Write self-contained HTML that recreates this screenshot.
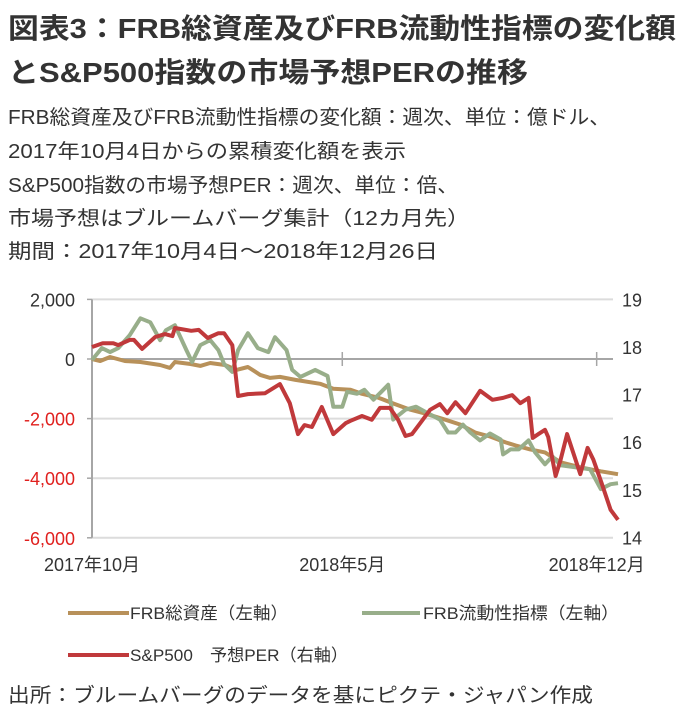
<!DOCTYPE html>
<html><head><meta charset="utf-8"><style>
html,body{margin:0;padding:0;background:#fff;}
svg{display:block;font-family:"Liberation Sans","Noto Sans CJK JP",sans-serif;}
</style></head><body>
<svg id="c" width="694" height="720" viewBox="0 0 694 720">
<g font-weight="bold" font-size="28" fill="#333">
<text x="8" y="38" textLength="668" lengthAdjust="spacingAndGlyphs">図表3：FRB総資産及びFRB流動性指標の変化額</text>
<text x="8" y="82" textLength="520" lengthAdjust="spacingAndGlyphs">とS&amp;P500指数の市場予想PERの推移</text>
</g>
<g font-size="20" fill="#333">
<text x="8" y="124" textLength="602" lengthAdjust="spacingAndGlyphs">FRB総資産及びFRB流動性指標の変化額：週次、単位：億ドル、</text>
<text x="8" y="158" textLength="398" lengthAdjust="spacingAndGlyphs">2017年10月4日からの累積変化額を表示</text>
<text x="8" y="192" textLength="450" lengthAdjust="spacingAndGlyphs">S&amp;P500指数の市場予想PER：週次、単位：倍、</text>
<text x="8" y="225" textLength="462" lengthAdjust="spacingAndGlyphs">市場予想はブルームバーグ集計（12カ月先）</text>
<text x="8" y="258" textLength="430" lengthAdjust="spacingAndGlyphs">期間：2017年10月4日～2018年12月26日</text>
</g>
<g id="plot"></g>
<g font-size="17" fill="#333">
<g><line x1="68" y1="613" x2="129" y2="613" stroke="#B8915A" stroke-width="4"/><text x="130" y="619" textLength="158" lengthAdjust="spacingAndGlyphs">FRB総資産（左軸）</text></g>
<g><line x1="362" y1="613" x2="420" y2="613" stroke="#98AE8A" stroke-width="4"/><text x="423" y="619" textLength="196" lengthAdjust="spacingAndGlyphs">FRB流動性指標（左軸）</text></g>
<g><line x1="68" y1="655" x2="129" y2="655" stroke="#C0393B" stroke-width="4"/><text x="130" y="661" textLength="218" lengthAdjust="spacingAndGlyphs">S&amp;P500　予想PER（右軸）</text></g>
</g>
<text x="8" y="702" font-size="20" fill="#333" textLength="585" lengthAdjust="spacingAndGlyphs">出所：ブルームバーグのデータを基にピクテ・ジャパン作成</text>
</svg>
<script>
const leftTicks=[2000,0,-2000,-4000,-6000];
const leftTickLabels=["2,000","0","-2,000","-4,000","-6,000"];
const rightTicks=[19,18,17,16,15,14];
const xLabels=["2017年10月","2018年5月","2018年12月"];
const xLabelWeeks=[0,30.5,61.5];
const assetWeeks=[0,1,2.2,4,5.9,8.3,9.5,10.1,12,13.2,14.4,16.2,17.6,19,20.5,21.7,22.9,24.8,27.8,29.4,31.5,32.9,34.9,36.8,38.8,40.6,43,44.9,46.7,48.5,50.4,51.6,53.4,55.2,57.1,59.5,62,64.1];
const assetValues=[0,-67,67,-67,-100,-200,-300,-100,-167,-233,-133,-200,-367,-267,-533,-633,-600,-700,-833,-1000,-1033,-1167,-1300,-1500,-1700,-1833,-2033,-2200,-2467,-2600,-2800,-2900,-3033,-3133,-3467,-3633,-3767,-3867];
const liqWeeks=[0,1.2,2.2,3.2,4.6,5.9,7.1,8.3,9,10.1,11.5,12.2,13.2,14.4,15.4,16.1,17.1,17.8,19,20.2,21.5,22.3,23.7,24.4,25.4,27.2,28.7,29.4,30.5,31.1,32.3,33.2,34.3,36.1,36.7,38.2,39.5,40.6,42.4,43.4,44.3,45.2,46.1,47.3,48.5,49.8,50.1,51,52,53.2,54,55.2,56.1,57.1,58.9,60.7,62,63.2,64.1];
const liqValues=[-33,367,233,367,800,1367,1233,633,967,1133,300,-100,467,633,300,-167,-433,300,867,367,233,733,300,-367,-600,-367,-567,-1600,-1600,-1100,-1167,-1033,-1367,-867,-2033,-1700,-1600,-1767,-2033,-2467,-2467,-2200,-2467,-2733,-2500,-2700,-3200,-3033,-3033,-2733,-3133,-3533,-3267,-3567,-3633,-3700,-4367,-4200,-4167];
const perWeeks=[0,1.3,2.6,3.2,4.6,5.1,6.1,7.7,8.9,9.8,10.1,12.1,13,14.1,15.4,16.1,17.1,17.8,19,21.1,22.9,24.1,25.1,25.9,26.8,28,29.4,30.9,31.5,32.9,34.1,35.1,36.3,37.3,38.2,39,40,41.2,42.4,43.3,44.3,45.5,47.3,48.8,50.1,51.2,52.2,53.2,53.7,54.4,55.2,55.6,56.5,57.1,57.9,59.5,60.4,61.1,62.1,63.2,64.1];
const perValues=[18.0,18.08,18.08,18.04,18.15,18.15,17.96,18.21,18.27,18.23,18.4,18.34,18.36,18.19,18.29,18.29,18.04,16.97,17.01,17.03,17.22,16.82,16.17,16.36,16.32,16.74,16.17,16.4,16.45,16.55,16.47,16.72,16.72,16.47,16.13,16.17,16.4,16.68,16.8,16.61,16.84,16.61,17.08,16.89,16.93,16.99,16.82,16.93,16.09,16.17,16.26,16.11,15.29,15.63,16.17,15.33,15.88,15.63,15.14,14.58,14.37];

const NS="http://www.w3.org/2000/svg";
const g=document.getElementById('plot');
const X0=92,X1=618,WMAX=64.1;
const xs=w=>X0+(w/WMAX)*(X1-X0);
const yL=v=>359-v*0.0298;
const yR=p=>347-(p-18)*47.6;
function mk(t,a,p){const e=document.createElementNS(NS,t);for(const k in a)e.setAttribute(k,a[k]);(p||g).appendChild(e);return e;}
leftTicks.forEach((v,i)=>{
 const y=yL(v);
 const ln=mk('line',{x1:X0,x2:613,y1:y,y2:y,stroke:v===0?'#a6a6a6':'#dcdcdc','stroke-width':v===0?2:2});
 
 
 const t=mk('text',{x:75,y:y+7,'text-anchor':'end','font-size':18,fill:v<0?'#e0201e':'#333'});
 t.textContent=leftTickLabels[i];
 
 
 const tk=mk('line',{x1:87,x2:92,y1:y,y2:y,stroke:'#a6a6a6','stroke-width':1.5});
 
 
});
const ax=mk('line',{x1:X0,x2:X0,y1:yL(2000),y2:yL(-6000),stroke:'#a6a6a6','stroke-width':2});


rightTicks.forEach(p=>{
 const t=mk('text',{x:622,y:yR(p)+7,'font-size':18,fill:'#333'});
 t.textContent=p;
 
 
});
xLabels.forEach((s,i)=>{
 const x=xs(xLabelWeeks[i]);
 const t=mk('text',{x:x,y:571,'text-anchor':'middle','font-size':18,fill:'#333'});
 t.textContent=s;
 
 
 if(i>0){const tk=mk('line',{x1:x,x2:x,y1:352,y2:366,stroke:'#a6a6a6','stroke-width':1.5});
 
 }
});
function series(ws,vs,yf,col,name){
 const d=ws.map((w,i)=>(i?'L':'M')+xs(w).toFixed(1)+','+yf(vs[i]).toFixed(1)).join('');
 const p=mk('path',{d:d,fill:'none',stroke:col,'stroke-width':4,'stroke-linejoin':'round'});
 
 
}
series(assetWeeks,assetValues,yL,'#B8915A','frb-assets-line');
series(liqWeeks,liqValues,yL,'#98AE8A','frb-liquidity-line');
series(perWeeks,perValues,yR,'#C0393B','sp500-per-line');
</script>
</body></html>
